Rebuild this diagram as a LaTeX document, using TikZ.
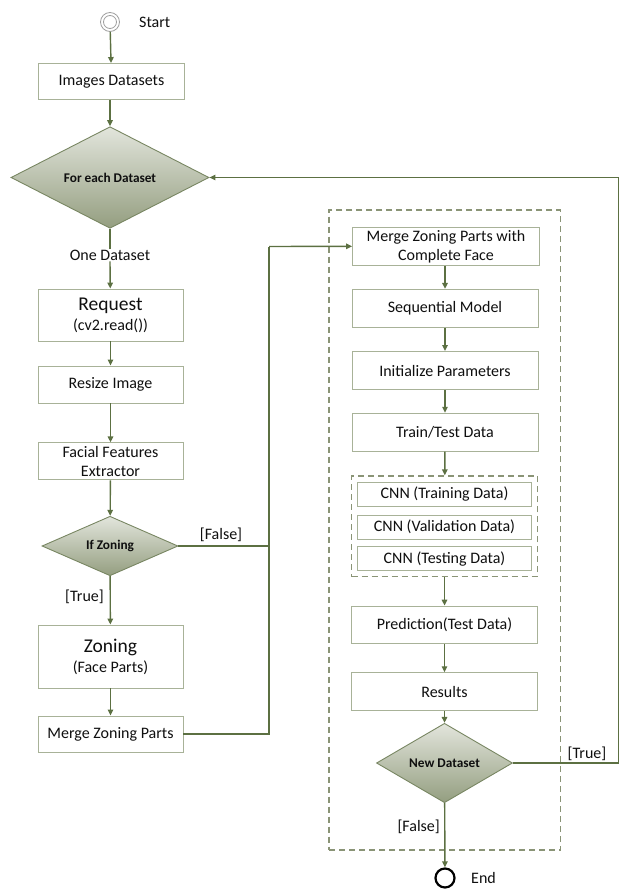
\documentclass[tikz,border=0pt]{standalone}
\usepackage{fontspec}
\setmainfont{Carlito}
\usetikzlibrary{shapes.geometric,arrows.meta}
\definecolor{linec}{RGB}{92,112,66}
\definecolor{boxc}{RGB}{168,178,152}
\definecolor{dashc}{RGB}{138,148,118}
\definecolor{dtop}{RGB}{226,229,220}
\definecolor{dbot}{RGB}{148,158,128}
\definecolor{dedge}{RGB}{120,134,98}
\definecolor{txt}{RGB}{15,15,15}
\newcommand\fs{\fontsize{16}{19}\selectfont}
\newcommand\bigfs{\fontsize{19.5}{22}\selectfont}
\newcommand\bfs{\fontsize{13.3}{15}\selectfont\bfseries}
\tikzset{
  box/.style={draw=boxc, fill=white, line width=0.9pt, align=center, inner sep=0pt, font=\fs, text=txt},
  dec/.style={diamond, draw=dedge, line width=0.9pt, top color=dtop, bottom color=dbot, inner sep=0pt, font=\bfs, text=txt},
  conn/.style={draw=linec, line width=1.4pt, -{Triangle[length=6pt,width=5.5pt]}},
  plain/.style={draw=linec, line width=1.4pt},
  lbl/.style={font=\fs, inner sep=1pt, text=txt},
  dbox/.style={draw=dashc, dash pattern=on 6pt off 4pt, line width=1.1pt, inner sep=0pt},
}
\begin{document}
\begin{tikzpicture}[x=1pt,y=-1pt]
\useasboundingbox (0,0) rectangle (619,891);
% outer dashed group
\node[dbox, minimum width=231.7, minimum height=640] (outer) at (444.85,530) {};
\node[dbox, minimum width=185.6, minimum height=100.7] (inner) at (444.5,526.3) {};
% start / end
\node[circle, draw=gray!75, line width=0.8pt, minimum size=19pt, inner sep=0pt] (start) at (110,22) {};
\node[circle, draw=gray!75, line width=0.8pt, minimum size=13pt, inner sep=0pt] (starti) at (110,22) {};
\node[lbl, anchor=west] (startl) at (138,22) {Start};
\node[circle, draw=black, line width=2.2pt, minimum size=19pt, inner sep=0pt] (end) at (445,878) {};
\node[lbl, anchor=west] (endl) at (470,878) {End};
% left column
\node[box, minimum width=146, minimum height=36] (imgs) at (111.5,81.5) {Images Datasets};
\node[dec, minimum width=198, minimum height=89] (fed) at (110,177.5) {For each Dataset};
\node[lbl] (oned) at (110,255) {One Dataset};
\node[box, minimum width=145, minimum height=52] (req) at (110.5,315) {{\bigfs Request}\\[1pt](cv2.read())};
\node[box, minimum width=145, minimum height=37] (resize) at (110.5,384.5) {Resize Image};
\node[box, minimum width=145, minimum height=37] (facial) at (110.5,461.3) {Facial Features\\Extractor};
\node[dec, minimum width=136, minimum height=52] (ifz) at (110,546) {If Zoning};
\node[box, minimum width=145, minimum height=63] (zon) at (110.5,656.5) {{\bigfs Zoning}\\[1pt](Face Parts)};
\node[box, minimum width=145, minimum height=36] (mz) at (110.5,734) {Merge Zoning Parts};
% right column
\node[box, minimum width=187, minimum height=37.5] (mzc) at (446,246.3) {Merge Zoning Parts with\\Complete Face};
\node[box, minimum width=186, minimum height=38] (seq) at (445,308.3) {Sequential Model};
\node[box, minimum width=186, minimum height=38] (init) at (445,370.5) {Initialize Parameters};
\node[box, minimum width=186, minimum height=38] (tt) at (445,432.2) {Train/Test Data};
\node[box, minimum width=174.4, minimum height=23.5] (cnn1) at (444.5,494.3) {CNN (Training Data)};
\node[box, minimum width=174.4, minimum height=24] (cnn2) at (444.5,527) {CNN (Validation Data)};
\node[box, minimum width=174.4, minimum height=24] (cnn3) at (444.5,558.7) {CNN (Testing Data)};
\node[box, minimum width=185.6, minimum height=37.3] (pred) at (444.5,624.7) {Prediction(Test Data)};
\node[box, minimum width=185.6, minimum height=38] (res) at (444.5,691.7) {Results};
\node[dec, minimum width=136, minimum height=51] (newd) at (444.5,763) {New Dataset};
% junction coordinates
\coordinate (jf) at (269,546);
\coordinate (jt) at (269,246.5);
\coordinate (jm) at (269,734);
\coordinate (r1) at (618.3,763);
\coordinate (r2) at (618.3,177.5);
% labels
\node[lbl] (lf1) at (221,535) {[False]};
\node[lbl, anchor=east] (lt1) at (105,597) {[True]};
\node[lbl] (lt2) at (587,754) {[True]};
\node[lbl, anchor=east] (lf2) at (441,827) {[False]};
% connectors
\draw[conn] (start) -- (imgs);
\draw[conn] (imgs.south -| fed.north) -- (fed);
\draw[plain] (fed.south) -- (oned.north);
\draw[conn] (oned.south) -- (req);
\draw[conn] (req) -- (resize);
\draw[conn] (resize) -- (facial);
\draw[conn] (facial) -- (ifz);
\draw[conn] (ifz) -- (zon);
\draw[conn] (zon) -- (mz);
\draw[plain] (ifz.east) -- (jf);
\draw[plain] (mz.east) -- (jm) -- (jt);
\draw[conn] (jt) -- (mzc.west);
\draw[conn] (mzc.south -| seq.north) -- (seq);
\draw[conn] (seq) -- (init);
\draw[conn] (init) -- (tt);
\draw[conn] (tt) -- (inner);
\draw[conn] (inner) -- (pred);
\draw[conn] (pred) -- (res);
\draw[conn] (res) -- (newd);
\draw[conn] (newd) -- (end);
\draw[conn] (newd.east) -- (r1) -- (r2) -- (fed.east);
\end{tikzpicture}
\end{document}
